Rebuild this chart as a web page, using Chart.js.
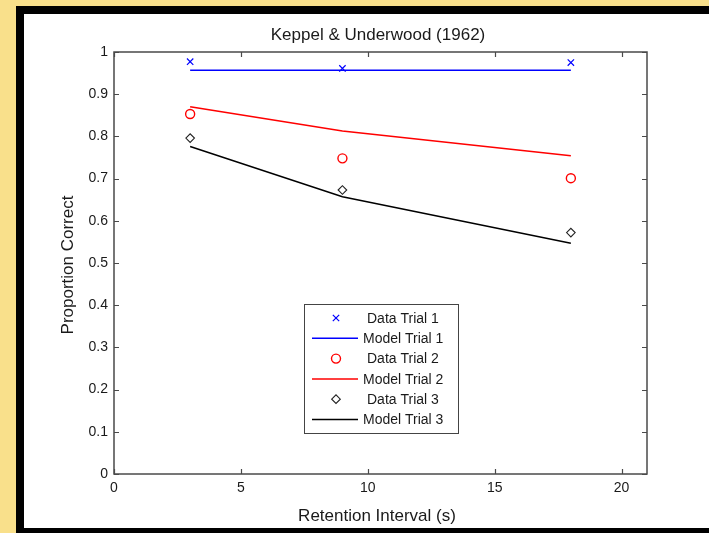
<!DOCTYPE html>
<html>
<head>
<meta charset="utf-8">
<script src="https://cdn.jsdelivr.net/npm/chart.js@4.4.1/dist/chart.umd.min.js"></script>
<style>
  html, body { margin: 0; padding: 0; background: #f9e08b; overflow: hidden; }
  #frame {
    position: absolute; left: 16px; top: 6px; width: 685px; height: 514px;
    border-left: 8px solid #000; border-top: 8px solid #000; border-bottom: 5px solid #000;
    background: #fff;
  }
  #wrap { position: absolute; left: 0; top: 0; width: 709px; height: 533px; }
</style>
</head>
<body>
<div id="frame"></div>
<div id="wrap"><canvas id="chart" width="709" height="533"></canvas></div>
<script>
// Retention interval (s)
const xValues = [3, 9, 18];

const dataTrial1 = [0.977, 0.961, 0.975];
const modelTrial1 = [0.957, 0.957, 0.957];
const dataTrial2 = [0.853, 0.748, 0.701];
const modelTrial2 = [0.870, 0.813, 0.754];
const dataTrial3 = [0.796, 0.673, 0.572];
const modelTrial3 = [0.776, 0.657, 0.547];

const xTicks = [0, 5, 10, 15, 20];
const yTicks = [0, 0.1, 0.2, 0.3, 0.4, 0.5, 0.6, 0.7, 0.8, 0.9, 1];

const FONT = '"Liberation Sans", Arial, sans-serif';
const AXIS_COLOR = '#4a4a4a';
const TEXT_COLOR = '#1a1a1a';

function pts(ys) {
    return xValues.map((x, i) => ({ x: x, y: ys[i] }));
}

function dataSet(label, ys, color, style, radius, width) {
    return {
        label: label,
        data: pts(ys),
        showLine: false,
        borderColor: color,
        backgroundColor: 'rgba(0,0,0,0)',
        pointStyle: style,
        pointRadius: radius,
        pointBorderWidth: width,
        pointHoverRadius: radius
    };
}

function modelSet(label, ys, color) {
    return {
        label: label,
        data: pts(ys),
        showLine: true,
        borderColor: color,
        backgroundColor: color,
        borderWidth: 1.5,
        pointRadius: 0,
        tension: 0
    };
}

// Frame, inward ticks, titles and legend
const decorPlugin = {
    id: 'decor',
    afterDraw(chart) {
        const ctx = chart.ctx;
        const a = chart.chartArea;
        const xs = chart.scales.x;
        const ys = chart.scales.y;
        ctx.save();

        ctx.strokeStyle = AXIS_COLOR;
        ctx.lineWidth = 1.5;
        ctx.strokeRect(a.left, a.top, a.right - a.left, a.bottom - a.top);

        ctx.lineWidth = 1.2;
        ctx.beginPath();
        xTicks.forEach(v => {
            const px = Math.round(xs.getPixelForValue(v)) + 0.5;
            ctx.moveTo(px, a.bottom); ctx.lineTo(px, a.bottom - 5);
            ctx.moveTo(px, a.top); ctx.lineTo(px, a.top + 5);
        });
        yTicks.forEach(v => {
            const py = Math.round(ys.getPixelForValue(v)) + 0.5;
            ctx.moveTo(a.left, py); ctx.lineTo(a.left + 5, py);
            ctx.moveTo(a.right, py); ctx.lineTo(a.right - 5, py);
        });
        ctx.stroke();

        // titles
        ctx.fillStyle = TEXT_COLOR;
        ctx.textAlign = 'center';
        ctx.textBaseline = 'middle';
        ctx.font = '17px ' + FONT;
        ctx.fillText('Keppel & Underwood (1962)', 378, 35);
        ctx.fillText('Retention Interval (s)', 377, 516);
        ctx.save();
        ctx.translate(68, 265);
        ctx.rotate(-Math.PI / 2);
        ctx.fillText('Proportion Correct', 0, 0);
        ctx.restore();

        // legend
        const bx = 304, by = 304, bw = 154, bh = 129;
        ctx.fillStyle = '#fff';
        ctx.fillRect(bx, by, bw, bh);
        ctx.strokeStyle = '#444';
        ctx.lineWidth = 1;
        ctx.strokeRect(bx + 0.5, by + 0.5, bw, bh);
        ctx.font = '14px ' + FONT;
        ctx.textAlign = 'left';
        chart.data.datasets.forEach((ds, i) => {
            const ry = by + 14 + i * 20.3;
            if (ds.showLine) {
                ctx.strokeStyle = ds.borderColor;
                ctx.lineWidth = ds.borderWidth;
                ctx.beginPath();
                ctx.moveTo(312, ry); ctx.lineTo(358, ry);
                ctx.stroke();
            } else {
                ctx.strokeStyle = ds.borderColor;
                ctx.fillStyle = 'rgba(0,0,0,0)';
                ctx.lineWidth = ds.pointBorderWidth;
                Chart.helpers.drawPoint(ctx, {
                    pointStyle: ds.pointStyle,
                    radius: ds.pointRadius,
                    borderWidth: ds.pointBorderWidth,
                    rotation: 0
                }, 336, ry);
            }
            ctx.fillStyle = TEXT_COLOR;
            ctx.fillText(ds.label, ds.showLine ? 363 : 367, ry + 1);
        });

        ctx.restore();
    }
};

const chart = new Chart(document.getElementById('chart').getContext('2d'), {
    type: 'scatter',
    data: {
        datasets: [
            dataSet('Data Trial 1', dataTrial1, '#0000ff', 'crossRot', 4.5, 1.2),
            modelSet('Model Trial 1', modelTrial1, '#0000ff'),
            dataSet('Data Trial 2', dataTrial2, '#ff0000', 'circle', 4.5, 1.4),
            modelSet('Model Trial 2', modelTrial2, '#ff0000'),
            dataSet('Data Trial 3', dataTrial3, '#222222', 'rectRot', 4.3, 1.1),
            modelSet('Model Trial 3', modelTrial3, '#000000')
        ]
    },
    options: {
        responsive: false,
        animation: false,
        devicePixelRatio: 1,
        layout: {
            padding: { left: 64, right: 62, top: 52, bottom: 19 }
        },
        plugins: {
            legend: { display: false },
            title: { display: false },
            tooltip: { enabled: false }
        },
        scales: {
            x: {
                type: 'linear',
                min: 0,
                max: 21,
                afterBuildTicks: s => { s.ticks = xTicks.map(v => ({ value: v })); },
                afterFit: s => { s.height = 40; },
                grid: { display: false, drawTicks: false },
                border: { display: false },
                ticks: {
                    color: TEXT_COLOR,
                    font: { family: FONT, size: 14 },
                    padding: 6,
                    maxRotation: 0
                }
            },
            y: {
                type: 'linear',
                min: 0,
                max: 1,
                afterBuildTicks: s => { s.ticks = yTicks.map(v => ({ value: v })); },
                afterFit: s => { s.width = 50; },
                grid: { display: false, drawTicks: false },
                border: { display: false },
                ticks: {
                    color: TEXT_COLOR,
                    font: { family: FONT, size: 14 },
                    padding: 6,
                    callback: v => String(Math.round(v * 10) / 10)
                }
            }
        }
    },
    plugins: [decorPlugin]
});
</script>
</body>
</html>
